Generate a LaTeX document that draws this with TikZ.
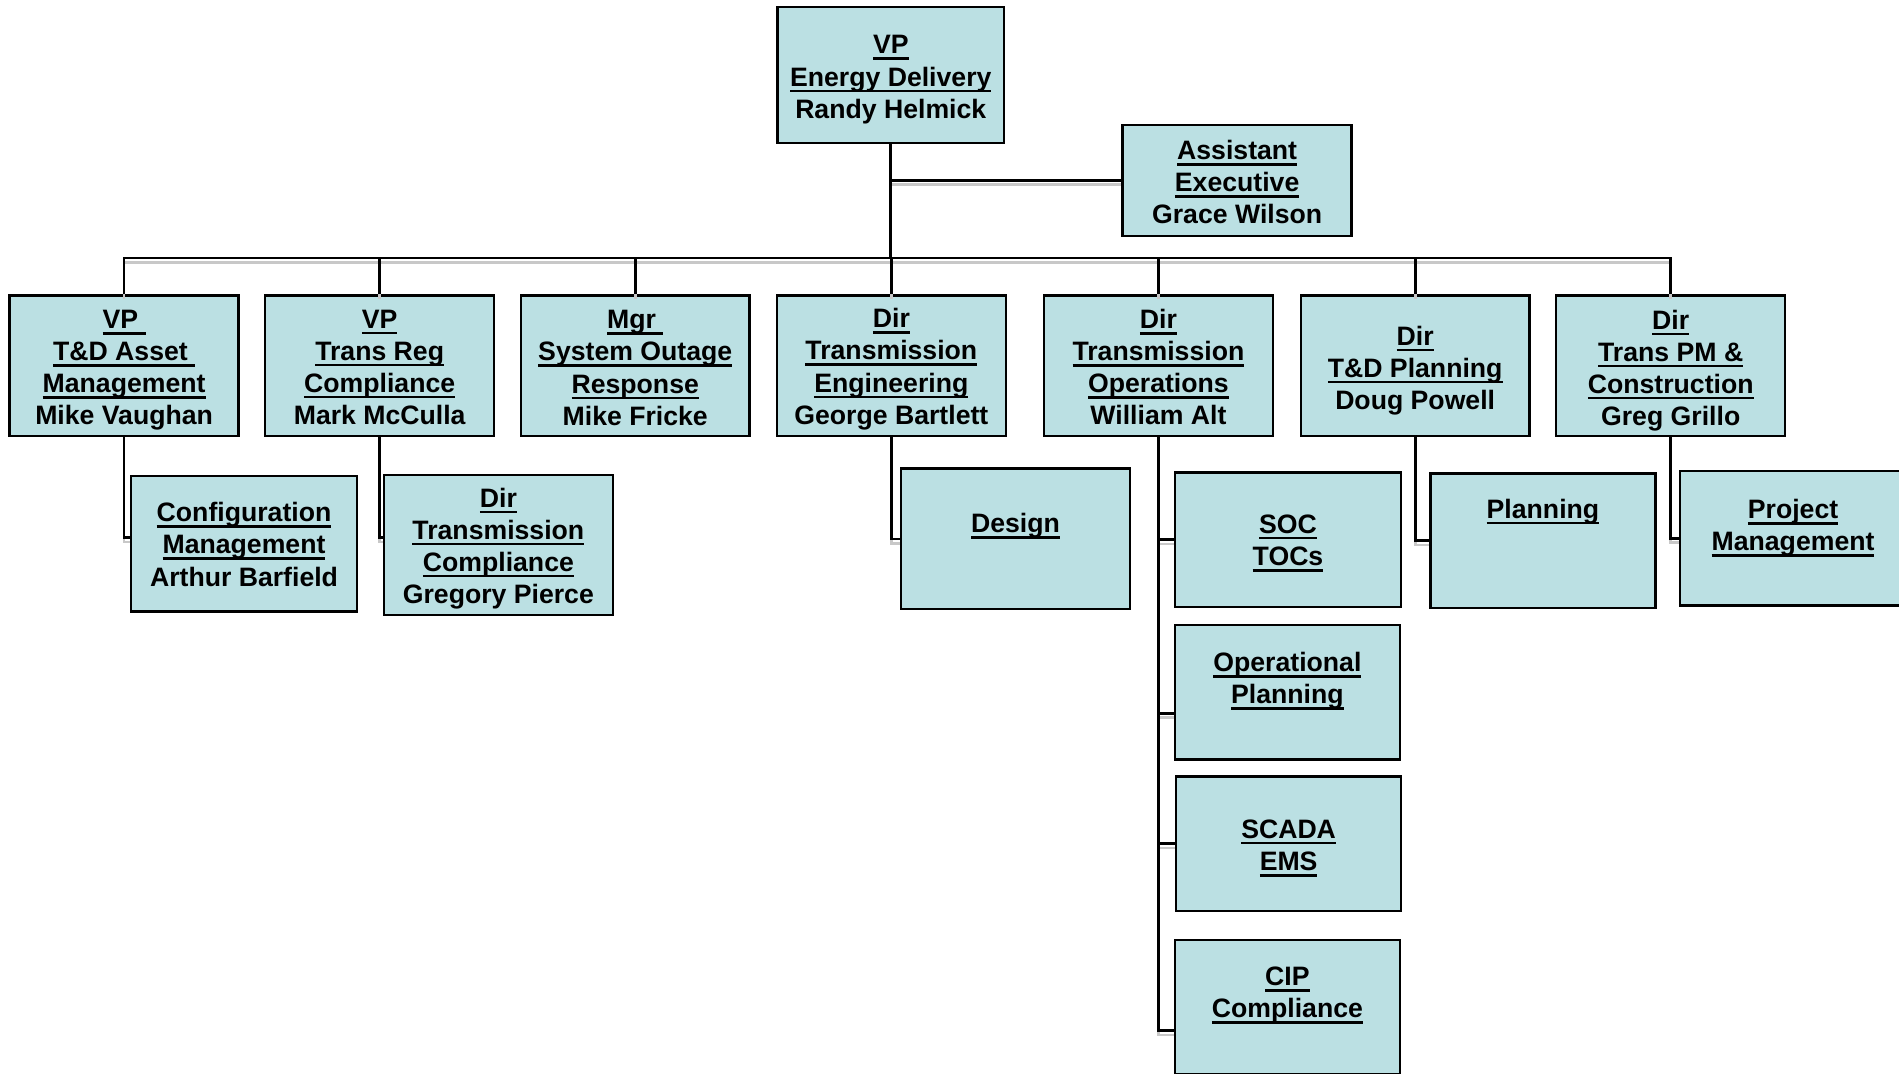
\documentclass[tikz,border=0pt]{standalone}
\usepackage{fontspec}
\setmainfont{Liberation Sans}
\newcommand\myul[1]{\setbox0\hbox{#1}\rlap{\rule[-2.5pt]{\wd0}{1.05pt}}\box0}
\definecolor{boxfill}{RGB}{187,224,227}
\definecolor{shadowgray}{RGB}{200,200,200}
\begin{document}
\begin{tikzpicture}[x=0.5pt,y=-0.5pt,
  orgbox/.style={draw=black, fill=boxfill, line width=1pt, inner sep=0pt},
  wide/.style={minimum width=94.5pt},
  tall/.style={minimum height=58pt},
  short/.style={minimum height=55.5pt},
  lbl/.style={align=center, font=\bfseries\fontsize{11pt}{13.25pt}\selectfont, inner sep=0pt},
  txt/.style 2 args={label={[lbl, yshift=#1]center:{#2}}},
  conn/.style={draw=black, line width=1.1pt},
  shadowline/.style={draw=shadowgray, line width=1.1pt, transform canvas={yshift=-1.8pt}}
]
\useasboundingbox (0,0) rectangle (1568,886);

% top level
\node[orgbox, minimum width=93.5pt, minimum height=56pt,
  txt={-1.9pt}{\myul{VP}\\\myul{Energy Delivery}\\Randy Helmick}] (vp) at (735.5,62) {};
\node[orgbox, wide, minimum height=46pt,
  txt={-0.65pt}{\myul{Assistant}\\\myul{Executive}\\Grace Wilson}] (asst) at (1021.5,149) {};

% second row
\node[orgbox, wide, tall,
  txt={-1.9pt}{\myul{VP }\\\myul{T\&D Asset }\\\myul{Management}\\Mike Vaughan}] (a1) at (102.5,302) {};
\node[orgbox, wide, tall,
  txt={-0.65pt}{\myul{VP}\\\myul{Trans Reg}\\\myul{Compliance}\\Mark McCulla}] (a2) at (313.5,302) {};
\node[orgbox, wide, tall,
  txt={-0.9pt}{\myul{Mgr }\\\myul{System Outage}\\\myul{Response}\\Mike Fricke}] (a3) at (524.5,302) {};
\node[orgbox, wide, tall,
  txt={-1.4pt}{\myul{Dir}\\\myul{Transmission}\\\myul{Engineering}\\George Bartlett}] (a4) at (736,302) {};
\node[orgbox, wide, tall,
  txt={-0.65pt}{\myul{Dir}\\\myul{Transmission}\\\myul{Operations}\\William Alt}] (a5) at (956.5,302) {};
\node[orgbox, wide, tall,
  txt={-1.9pt}{\myul{Dir}\\\myul{T\&D Planning}\\Doug Powell}] (a6) at (1168.5,302) {};
\node[orgbox, wide, tall,
  txt={-1.9pt}{\myul{Dir}\\\myul{Trans PM \&}\\\myul{Construction}\\Greg Grillo}] (a7) at (1379.5,302) {};

% third level
\node[orgbox, minimum width=93.5pt, minimum height=56pt,
  txt={-0.25pt}{\myul{Configuration}\\\myul{Management}\\Arthur Barfield}] (config) at (201.5,449) {};
\node[orgbox, wide, tall,
  txt={-1.4pt}{\myul{Dir}\\\myul{Transmission}\\\myul{Compliance}\\Gregory Pierce}] (dtc) at (411.5,450) {};
\node[orgbox, wide, tall,
  txt={5.25pt}{\myul{Design}}] (design) at (838.5,445) {};
\node[orgbox, minimum width=93.5pt, short,
  txt={-1.5pt}{\myul{SOC}\\\myul{TOCs}}] (soc) at (1063.5,445.5) {};
\node[orgbox, minimum width=93pt, short,
  txt={4.5pt}{\myul{Operational}\\\myul{Planning}}] (opplan) at (1063,571.5) {};
\node[orgbox, minimum width=93pt, short,
  txt={-1.9pt}{\myul{SCADA}\\\myul{EMS}}] (scada) at (1064,696.5) {};
\node[orgbox, minimum width=93pt, short,
  txt={4.75pt}{\myul{CIP}\\\myul{Compliance}}] (cip) at (1063,831.5) {};
\node[orgbox, minimum width=93pt, short,
  txt={12pt}{\myul{Planning}}] (planning) at (1274,446.5) {};
\node[orgbox, minimum width=93.5pt, short,
  txt={4.25pt}{\myul{Project}\\\myul{Management}}] (projmgmt) at (1480.5,444.5) {};

\coordinate (bus) at (735.5,213);
\coordinate (opb) at ([yshift=-8.75pt]opplan.west);
\coordinate (cipb) at ([yshift=-9.75pt]cip.west);
\coordinate (cfgb) at ([yshift=2.5pt]config.west);
\coordinate (dtcb) at ([yshift=3pt]dtc.west);

% shadows
\foreach \n in {a1,a2,a3,a4,a5,a6,a7} { \path[shadowline] (\n.north) |- (bus); }
\path[shadowline] (vp.south |- asst.west) -- (asst.west);
\path[shadowline] (a1.south) |- (cfgb);
\path[shadowline] (a2.south) |- (dtcb);
\path[shadowline] (a4.south) |- (design.west);
\path[shadowline] (a5.south) |- (soc.west);
\path[shadowline] (a5.south) |- (opb);
\path[shadowline] (a5.south) |- (scada.west);
\path[shadowline] (a5.south) |- (cipb);
\path[shadowline] (a6.south) |- (planning.west);
\path[shadowline] (a7.south) |- (projmgmt.west);

% connectors
\draw[conn] (vp.south) -- (bus);
\draw[conn] (vp.south |- asst.west) -- (asst.west);
\foreach \n in {a1,a2,a3,a4,a5,a6,a7} { \draw[conn] (\n.north) |- (bus); }
\draw[conn] (a1.south) |- (cfgb);
\draw[conn] (a2.south) |- (dtcb);
\draw[conn] (a4.south) |- (design.west);
\draw[conn] (a5.south) |- (soc.west);
\draw[conn] (a5.south) |- (opb);
\draw[conn] (a5.south) |- (scada.west);
\draw[conn] (a5.south) |- (cipb);
\draw[conn] (a6.south) |- (planning.west);
\draw[conn] (a7.south) |- (projmgmt.west);
\end{tikzpicture}
\end{document}
